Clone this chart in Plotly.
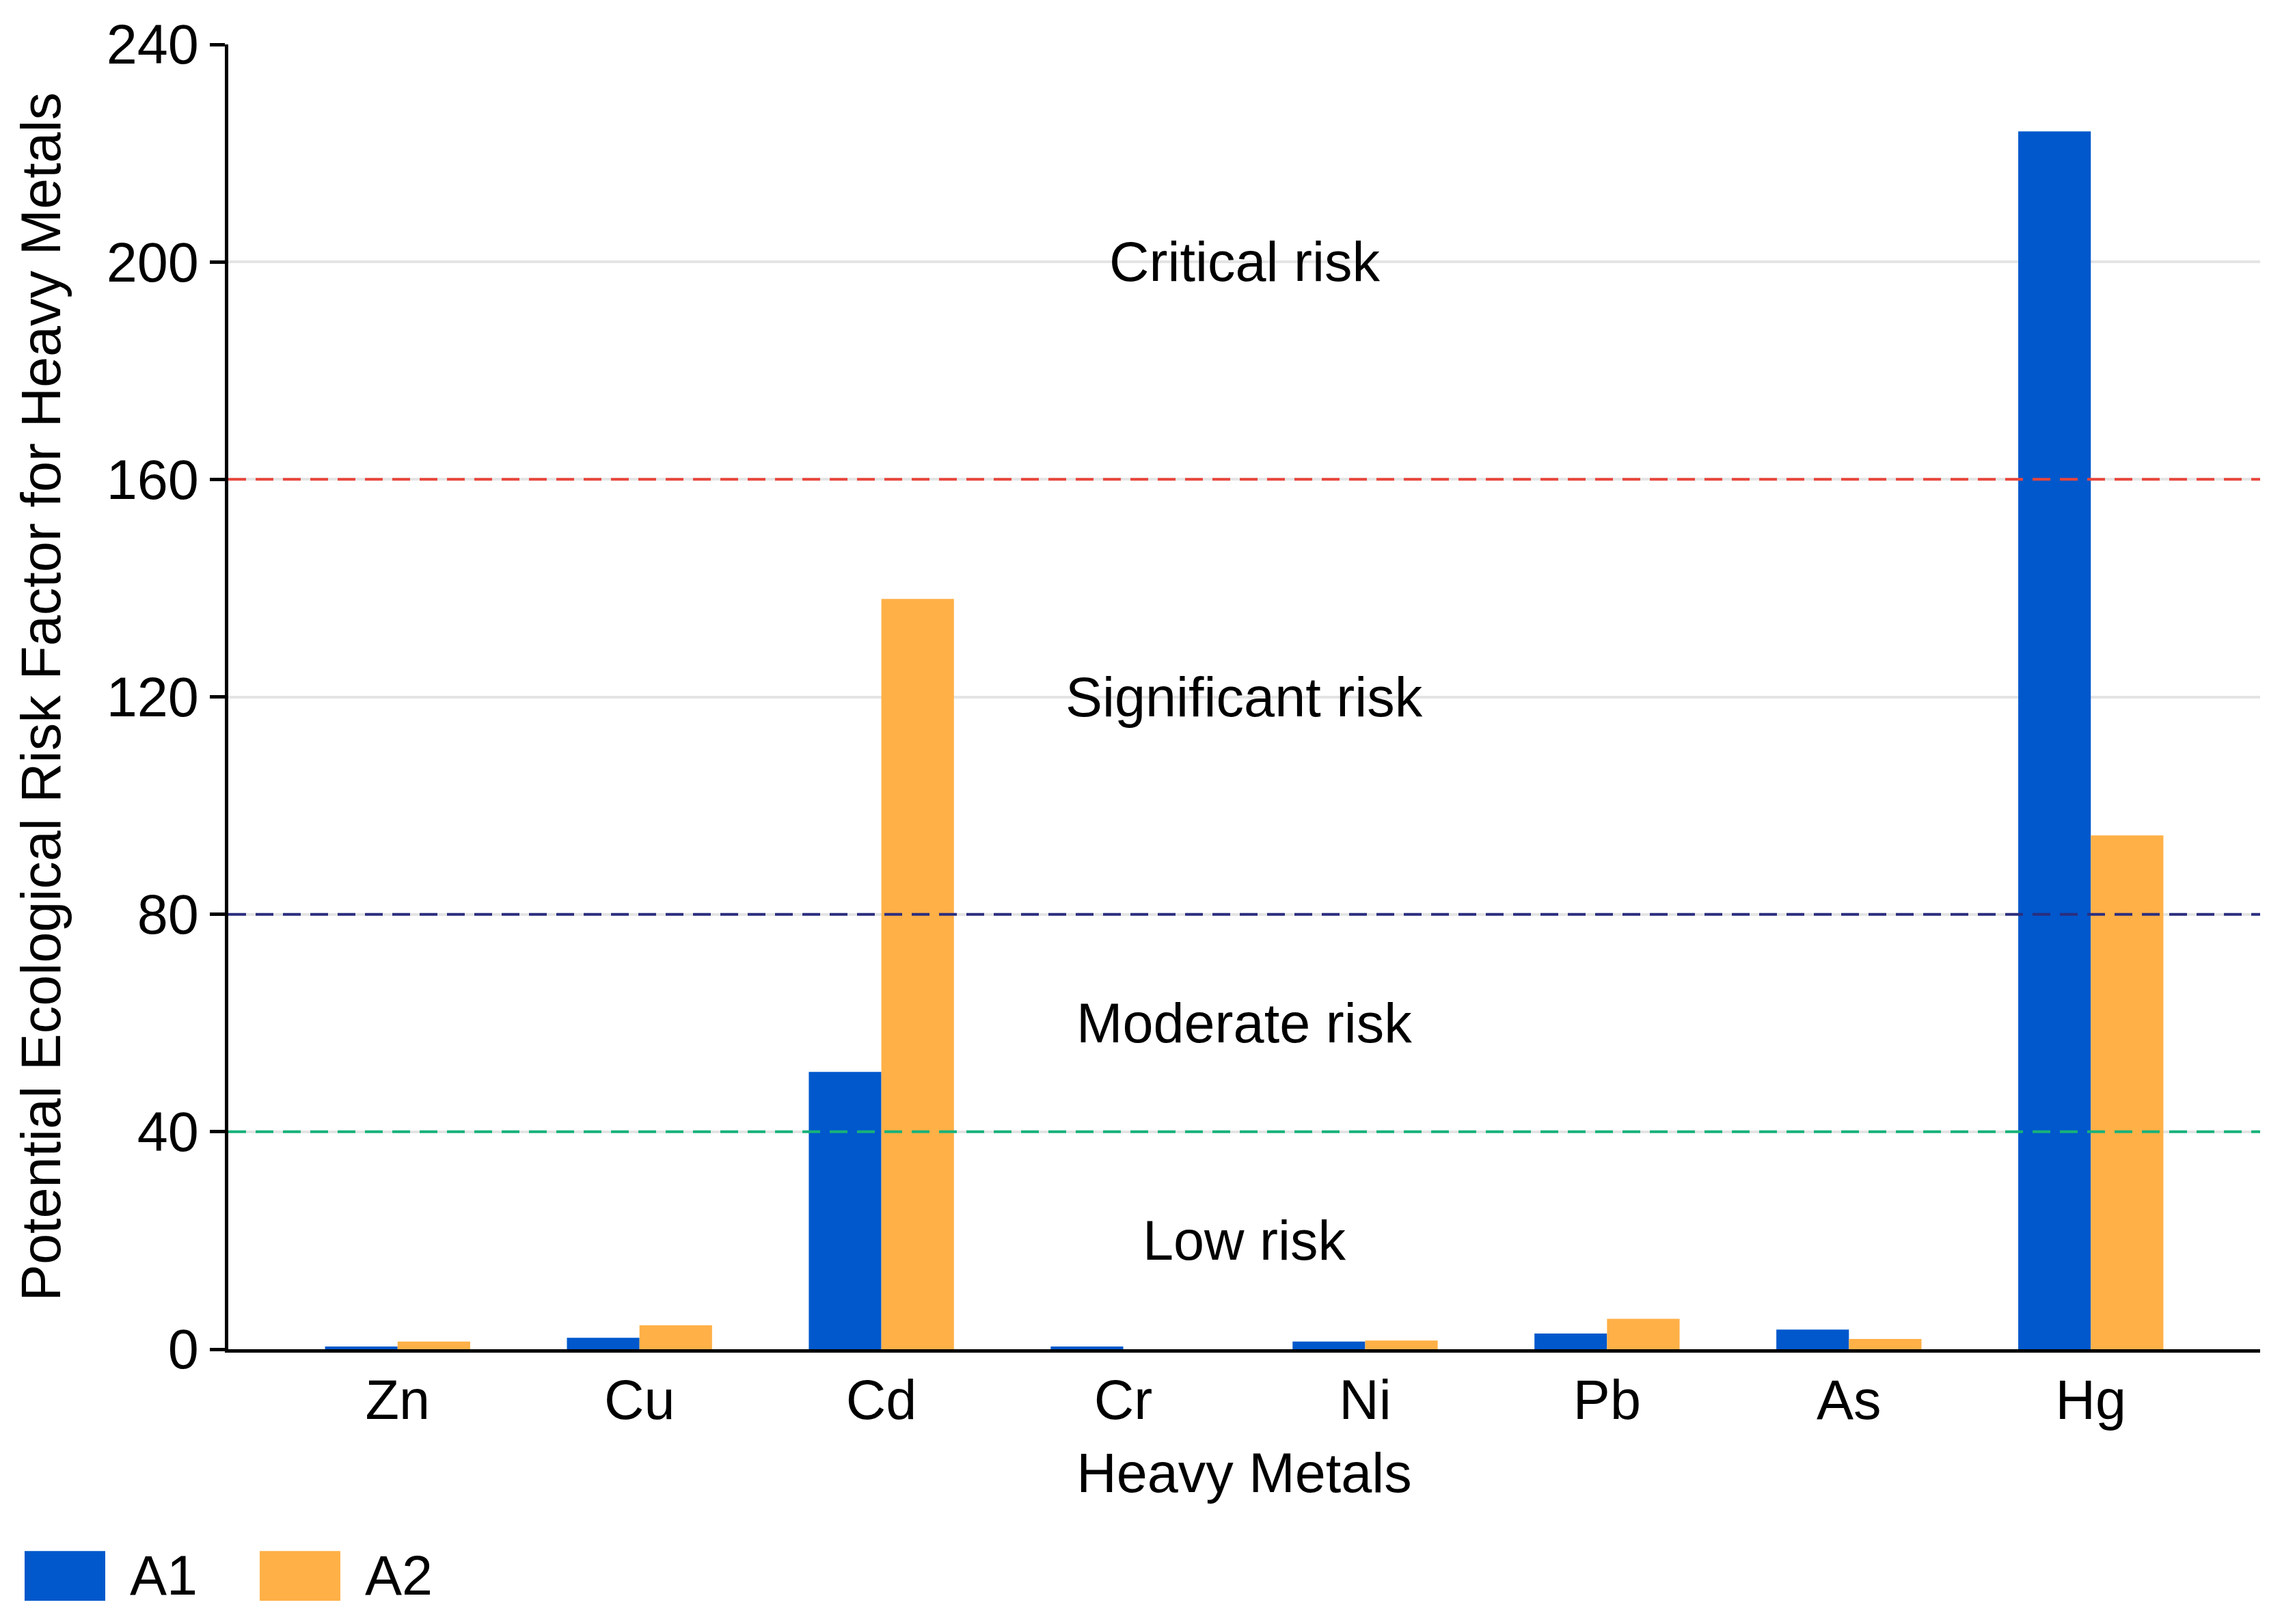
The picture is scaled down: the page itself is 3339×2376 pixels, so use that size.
import plotly.graph_objects as go

metals = ["Zn", "Cu", "Cd", "Cr", "Ni", "Pb", "As", "Hg"]
a1_values = [0.5, 2.1, 51.0, 0.5, 1.4, 2.9, 3.6, 224.0]
a2_values = [1.4, 4.4, 138.0, 0.0, 1.6, 5.6, 1.9, 94.5]
series_names = ["A1", "A2"]
y_ticks = [0, 40, 80, 120, 160, 200, 240]
threshold_values = [40, 80, 160]
threshold_colors = ["#17b27a", "#2b2e7e", "#e8453c"]
risk_labels = ["Low risk", "Moderate risk", "Significant risk", "Critical risk"]
risk_label_y = [20, 60, 120, 200]

BLUE = "#0058cc"
ORANGE = "#ffb047"
FONT = "Liberation Sans, Arial, sans-serif"
FS = 81

fig = go.Figure()
fig.add_trace(go.Bar(x=metals, y=a1_values, name=series_names[0],
                     marker=dict(color=BLUE, line=dict(width=0)), showlegend=False))
fig.add_trace(go.Bar(x=metals, y=a2_values, name=series_names[1],
                     marker=dict(color=ORANGE, line=dict(width=0)), showlegend=False))

shapes = []
for v, c in zip(threshold_values, threshold_colors):
    shapes.append(dict(type="line", xref="paper", x0=0, x1=1, yref="y", y0=v, y1=v,
                       line=dict(color=c, width=4, dash="26px,14px"), layer="above"))

# page has an 8px body margin; figure coordinates are offset by it
OFF = 8
W, H = 3339 - OFF, 2376 - OFF
L, R, T, B = 334 - OFF, 32, 60 - OFF, 402
pw, ph = W - L - R, H - T - B

def px2paper_x(px):
    return (px - OFF - L) / pw

def px2paper_y(py):
    return (H - B - (py - OFF)) / ph

legend_items = [(series_names[0], BLUE, 36), (series_names[1], ORANGE, 380)]
annotations = []
for name, col, x0 in legend_items:
    shapes.append(dict(type="rect", xref="paper", yref="paper",
                       x0=px2paper_x(x0), x1=px2paper_x(x0 + 118),
                       y0=px2paper_y(2343), y1=px2paper_y(2270),
                       fillcolor=col, line=dict(width=0), layer="above"))
    annotations.append(dict(text=name, xref="paper", yref="paper",
                            x=px2paper_x(x0 + 152), y=px2paper_y(2306),
                            xanchor="left", yanchor="middle", showarrow=False,
                            font=dict(family=FONT, size=FS, color="#000")))

for t, yv in zip(risk_labels, risk_label_y):
    annotations.append(dict(text=t, xref="paper", x=0.5, yref="y", y=yv,
                            xanchor="center", yanchor="middle", showarrow=False,
                            font=dict(family=FONT, size=FS, color="#000")))

fig.update_layout(
    width=W, height=H,
    margin=dict(l=L, r=R, t=T, b=B),
    paper_bgcolor="white", plot_bgcolor="white",
    barmode="group", bargap=0.4, bargroupgap=0,
    font=dict(family=FONT, size=FS, color="#000"),
    shapes=shapes, annotations=annotations,
    showlegend=False,
)
fig.update_xaxes(
    range=[-0.7, 7.7], showline=True, linecolor="#000", linewidth=5,
    ticks="", showgrid=False, zeroline=False,
    tickfont=dict(family=FONT, size=FS, color="#000"),
    title=dict(text="Heavy Metals", font=dict(family=FONT, size=FS, color="#000"), standoff=36),
)
fig.update_yaxes(
    range=[0, 240], tickvals=y_ticks, showline=True, linecolor="#000", linewidth=5,
    ticks="outside", ticklen=22, tickwidth=5, tickcolor="#000",
    showgrid=True, gridcolor="#e4e4e4", gridwidth=4, zeroline=False,
    tickfont=dict(family=FONT, size=FS, color="#000"),
    title=dict(text="Potential Ecological Risk Factor for Heavy Metals",
               font=dict(family=FONT, size=FS, color="#000"), standoff=42),
)

fig.write_html("out.html")
